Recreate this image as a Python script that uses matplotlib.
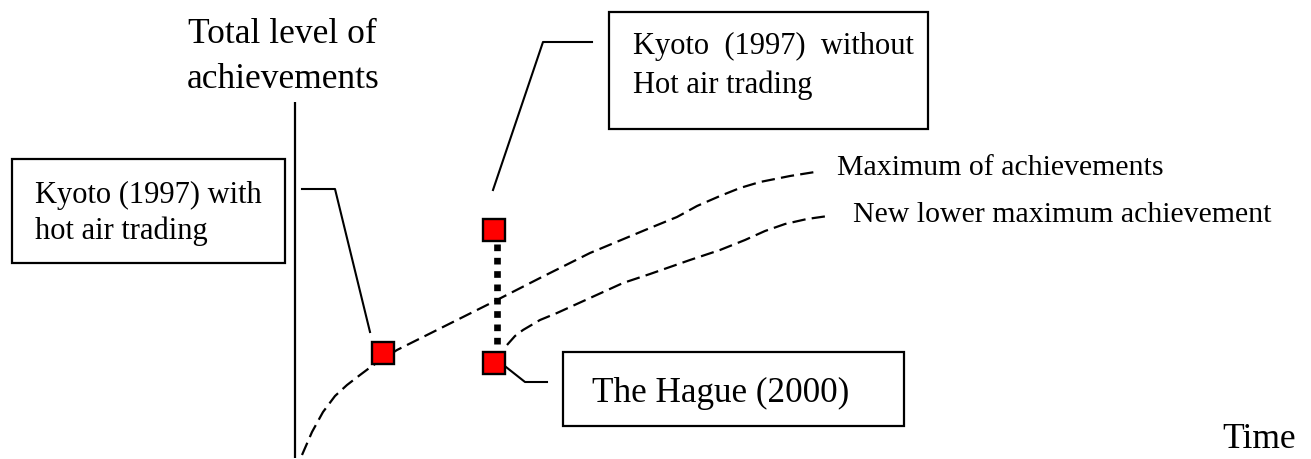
import matplotlib
matplotlib.use("Agg")
import matplotlib.pyplot as plt
from matplotlib.patches import Rectangle

# ---- data (in pixel-like diagram units) ----
axis_x = [295, 295]
axis_y = [102, 458]

max_curve_x = [302, 312, 323, 335, 347, 360, 372, 397, 445, 493, 540, 590, 650, 677, 697, 720, 740, 760, 790, 815]
max_curve_y = [455, 432, 412, 396, 385, 375, 366, 350, 326, 302, 278, 253, 228, 217, 206, 196, 188, 182, 176, 172]

lower_curve_x = [507, 515, 523, 540, 557, 590, 623, 650, 690, 720, 745, 765, 785, 807, 828]
lower_curve_y = [345, 336, 330, 320, 313, 298, 283, 274, 260, 250, 240, 231, 224, 219, 216]

marker_x = [383, 494, 494]
marker_y = [353, 230, 363]

gap_x = [497, 497]
gap_y = [244, 351]

leader_with_x = [302, 335, 370]
leader_with_y = [189, 189, 332]
leader_without_x = [493, 543, 592]
leader_without_y = [190, 42, 42]
leader_hague_x = [506, 525, 547]
leader_hague_y = [367, 382, 382]

# boxes: (x0, y0, x1, y1)
box_with = (12, 159, 285, 263)
box_without = (609, 12, 928, 129)
box_hague = (563, 352, 904, 426)

serif = ["Liberation Serif", "DejaVu Serif"]

fig = plt.figure(figsize=(13.11, 4.59), dpi=100)
ax = fig.add_axes([0, 0, 1, 1])
ax.set_xlim(0, 1311)
ax.set_ylim(459, 0)
ax.axis("off")

# vertical axis
ax.plot(axis_x, axis_y, color="black", lw=1.6, solid_capstyle="butt")

# curves
ax.plot(max_curve_x, max_curve_y, color="black", lw=1.6, dashes=(6, 2.8))
ax.plot(lower_curve_x, lower_curve_y, color="black", lw=1.6, dashes=(6, 2.8))

# thick dotted connector
ax.plot(gap_x, gap_y, color="black", lw=4.8, dashes=(1, 1), dash_capstyle="butt")

# leaders
for lx, ly in [(leader_with_x, leader_with_y), (leader_without_x, leader_without_y),
               (leader_hague_x, leader_hague_y)]:
    ax.plot(lx, ly, color="black", lw=1.5)

# markers
ax.plot(marker_x, marker_y, linestyle="none", marker="s", markersize=16.5,
        markerfacecolor="#ff0000", markeredgecolor="black", markeredgewidth=1.7, zorder=5)

# boxes
for (x0, y0, x1, y1) in [box_with, box_without, box_hague]:
    ax.add_patch(Rectangle((x0, y0), x1 - x0, y1 - y0, fill=False, edgecolor="black", lw=1.6))

# texts
ax.text(188, 43, "Total level of", fontsize=25.5, family=serif, va="baseline", ha="left")
ax.text(187, 88, "achievements", fontsize=25.5, family=serif, va="baseline", ha="left")

ax.text(35, 203, "Kyoto (1997) with", fontsize=22, family=serif, va="baseline", ha="left")
ax.text(35, 239, "hot air trading", fontsize=22, family=serif, va="baseline", ha="left")

ax.text(633, 54, "Kyoto  (1997)  without", fontsize=22, family=serif, va="baseline", ha="left")
ax.text(633, 93, "Hot air trading", fontsize=22, family=serif, va="baseline", ha="left")

ax.text(592, 402, "The Hague (2000)", fontsize=25.3, family=serif, va="baseline", ha="left")

ax.text(837, 175, "Maximum of achievements", fontsize=21.5, family=serif, va="baseline", ha="left")
ax.text(853, 222, "New lower maximum achievement", fontsize=21.5, family=serif, va="baseline", ha="left")

ax.text(1222, 448, "Time", fontsize=25.6, family=serif, va="baseline", ha="left")

fig.savefig("out.png", dpi=100)
